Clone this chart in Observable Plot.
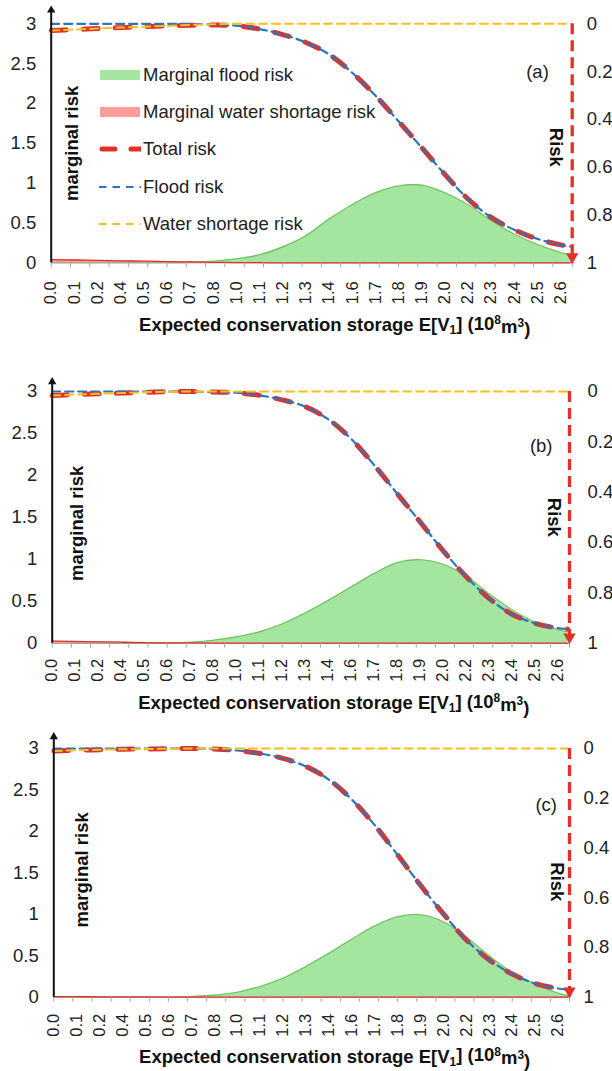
<!DOCTYPE html>
<html><head><meta charset="utf-8">
<script src="https://cdn.jsdelivr.net/npm/d3@7"></script>
<script src="https://cdn.jsdelivr.net/npm/@observablehq/plot@0.6"></script>
<style>
body{margin:0;background:#fff;}
#chart{position:relative;width:612px;height:1071px;font-family:"Liberation Sans",Arial,sans-serif;overflow:hidden;}
#chart svg{display:block;}
.legend{position:absolute;left:99px;top:56px;font-size:18.5px;color:#222;}
.legend .row{display:flex;align-items:center;height:37.4px;white-space:nowrap;}
.legend svg{margin-right:2px;}
</style></head><body><div id="chart"></div><script>
// ---- data ----
const storage = [0, 0.12, 0.24, 0.36, 0.48, 0.6, 0.72, 0.84, 0.96, 1.08, 1.2, 1.32, 1.44, 1.56, 1.68, 1.8, 1.92, 2.04, 2.16, 2.28, 2.4, 2.52, 2.64, 2.69];
const storageLabels = ["0.0","0.1","0.2","0.4","0.5","0.6","0.7","0.8","1.0","1.1","1.2","1.3","1.4","1.6","1.7","1.8","1.9","2.0","2.2","2.3","2.4","2.5","2.6"];
const marginalTicks = [0, 0.5, 1, 1.5, 2, 2.5, 3];
const riskTicks = [0, 0.2, 0.4, 0.6, 0.8, 1];
const xDomain = [0, 2.7];

// panel (a)
const aMarginalFlood    = [0,0,0,0,0,0,0.005,0.02,0.05,0.1,0.2,0.34,0.55,0.73,0.88,0.965,0.975,0.88,0.73,0.53,0.36,0.23,0.13,0.1];
const aMarginalShortage = [0.04,0.035,0.03,0.025,0.02,0.015,0.01,0.006,0.003,0.001,0,0,0,0,0,0,0,0,0,0,0,0,0,0];
const aTotalRisk        = [0.028,0.024,0.02,0.016,0.012,0.009,0.006,0.005,0.008,0.022,0.045,0.078,0.128,0.205,0.3,0.408,0.518,0.63,0.733,0.81,0.862,0.9,0.925,0.932];
const aFloodRisk        = [0,0,0,0,0,0,0.001,0.003,0.008,0.022,0.045,0.078,0.128,0.205,0.3,0.408,0.518,0.63,0.733,0.81,0.862,0.9,0.925,0.932];
const aShortageRisk     = [0.028,0.024,0.02,0.016,0.012,0.009,0.005,0.002,0,0,0,0,0,0,0,0,0,0,0,0,0,0,0,0];
// panel (b)
const bMarginalFlood    = [0,0,0,0,0,0,0.01,0.035,0.075,0.135,0.23,0.36,0.51,0.67,0.83,0.96,0.995,0.94,0.8,0.59,0.4,0.25,0.16,0.135];
const bMarginalShortage = [0.025,0.02,0.016,0.012,0.008,0.005,0.003,0.001,0,0,0,0,0,0,0,0,0,0,0,0,0,0,0,0];
const bTotalRisk        = [0.016,0.012,0.009,0.006,0.003,0.001,0,0.002,0.005,0.015,0.033,0.06,0.11,0.188,0.292,0.405,0.518,0.632,0.735,0.822,0.885,0.921,0.94,0.944];
const bFloodRisk        = [0,0,0,0,0,0,0,0.002,0.005,0.015,0.033,0.06,0.11,0.188,0.292,0.405,0.518,0.632,0.735,0.822,0.885,0.921,0.94,0.944];
const bShortageRisk     = [0.016,0.012,0.009,0.006,0.003,0.001,0,0,0,0,0,0,0,0,0,0,0,0,0,0,0,0,0,0];
// panel (c)
const cMarginalFlood    = [0,0,0,0,0,0,0.008,0.025,0.06,0.13,0.23,0.37,0.53,0.7,0.86,0.97,0.995,0.91,0.725,0.5,0.3,0.16,0.05,0.02];
const cMarginalShortage = [0.008,0.006,0.005,0.004,0.003,0.002,0.001,0,0,0,0,0,0,0,0,0,0,0,0,0,0,0,0,0];
const cTotalRisk        = [0.01,0.007,0.005,0.003,0.002,0.001,0,0.002,0.008,0.02,0.04,0.072,0.125,0.205,0.308,0.428,0.55,0.665,0.77,0.85,0.907,0.945,0.965,0.97];
const cFloodRisk        = [0,0,0,0,0,0,0,0.002,0.008,0.02,0.04,0.072,0.125,0.205,0.308,0.428,0.55,0.665,0.77,0.85,0.907,0.945,0.965,0.97];
const cShortageRisk     = [0.01,0.007,0.005,0.003,0.002,0.001,0,0,0,0,0,0,0,0,0,0,0,0,0,0,0,0,0,0];

const legendItems = ["Marginal flood risk","Marginal water shortage risk","Total risk","Flood risk","Water shortage risk"];
const xTitle = "Expected conservation storage E[V1] (108m3)";

// ---- styles ----
const GREEN_FILL = "#a4e6a0", GREEN_LINE = "#6fbf5e", PINK = "#f99d9d", RED = "#e3312a",
      BLUE = "#2e75b6", ORANGE = "#fdbd1c", FONT = "Liberation Sans, Arial, sans-serif";

const panels = [
  {mf:aMarginalFlood, ms:aMarginalShortage, tot:aTotalRisk, fr:aFloodRisk, sr:aShortageRisk, tag:"(a)",
   height:345, mt:23.3, mb:82.7, ml:50.7, mr:40.3, tickDy:30, titleDy:62.5, arrowDy:-13.6,
   ylab:[21,0], rlab:[-16.5,4], tagOff:[-34.7,48.4], rTickDx:14.5},
  {mf:bMarginalFlood, ms:bMarginalShortage, tot:bTotalRisk, fr:bFloodRisk, sr:bShortageRisk, tag:"(b)",
   height:373, mt:46, mb:75.3, ml:51.7, mr:43, tickDy:27, titleDy:60.3, arrowDy:-9.6,
   ylab:[25,6], rlab:[-16,0], tagOff:[-28.3,55], rTickDx:18},
  {mf:cMarginalFlood, ms:cMarginalShortage, tot:cTotalRisk, fr:cFloodRisk, sr:cShortageRisk, tag:"(c)",
   height:353, mt:30, mb:74.3, ml:53.3, mr:43, tickDy:28, titleDy:59.5, arrowDy:-11.6,
   ylab:[28.4,-3], rlab:[-12.3,9], tagOff:[-23.3,57], rTickDx:14}
];

const toLeft = r => 3 * (1 - r); // risk (right axis, inverted) -> marginal-risk scale

function makePanel(p) {
  const rows = storage.map((x, i) => ({x, mf: p.mf[i], ms: p.ms[i], tot: toLeft(p.tot[i]), fr: toLeft(p.fr[i]), sr: toLeft(p.sr[i])}));
  const labelRows = storageLabels.map((label, i) => ({x: storage[i], label}));
  const svg = Plot.plot({
    width: 612, height: p.height,
    marginTop: p.mt, marginBottom: p.mb, marginLeft: p.ml, marginRight: p.mr,
    style: {fontFamily: FONT, color: "#222", background: "#fff", overflow: "visible"},
    x: {domain: xDomain, axis: null},
    y: {domain: [0, 3], axis: null},
    marks: [
      Plot.areaY(rows, {x: "x", y: "mf", fill: GREEN_FILL, curve: "catmull-rom"}),
      Plot.lineY(rows, {x: "x", y: "mf", stroke: GREEN_LINE, strokeWidth: 1.1, curve: "catmull-rom"}),
      Plot.ruleY([0], {stroke: "#9a9a9a", strokeWidth: 1}),
      Plot.areaY(rows, {x: "x", y: "ms", fill: PINK, curve: "monotone-x"}),
      Plot.lineY(rows, {x: "x", y: "ms", stroke: RED, strokeWidth: 1.3, curve: "monotone-x"}),
      Plot.axisX(d3.range(0, 2.75, 0.1), {tickSize: 5, tickFormat: () => "", label: null, stroke: "#a6a6a6", strokeWidth: 1}),
      Plot.text(labelRows, {x: "x", text: "label", frameAnchor: "bottom", rotate: -90, textAnchor: "middle", lineAnchor: "middle", dy: p.tickDy, fontSize: 16.5, fill: "#222"}),
      Plot.axisY(marginalTicks, {tickSize: 0, tickPadding: 15, fontSize: 18.5, tickFormat: d => String(d), label: null, fill: "#222"}),
      Plot.text(riskTicks, {y: d => toLeft(d), text: d => String(d), frameAnchor: "right", dx: p.rTickDx, textAnchor: "start", lineAnchor: "middle", fontSize: 18.5, fill: "#222"}),
      Plot.lineY(rows, {x: "x", y: "tot", stroke: RED, strokeWidth: 5, strokeDasharray: "15,17", strokeLinecap: "round", curve: "catmull-rom"}),
      Plot.lineY(rows, {x: "x", y: "fr", stroke: BLUE, strokeWidth: 2.2, strokeDasharray: "8,5", curve: "catmull-rom"}),
      Plot.lineY(rows, {x: "x", y: "sr", stroke: ORANGE, strokeWidth: 2, strokeDasharray: "8,5", curve: "monotone-x"}),
      Plot.ruleX([xDomain[1]], {stroke: RED, strokeWidth: 3.3, strokeDasharray: "11,6"}),
      Plot.dot([xDomain[1]], {x: d => d, frameAnchor: "bottom", dy: -6, symbol: "triangle", rotate: 180, r: 4.6, fill: RED, stroke: "none"}),
      Plot.ruleX([xDomain[0]], {stroke: "#111", strokeWidth: 2, insetTop: p.arrowDy - 2}),
      Plot.dot([xDomain[0]], {x: d => d, frameAnchor: "top", dy: p.arrowDy, symbol: "triangle", r: 3.1, fill: "#111", stroke: "none"}),
      Plot.text(["marginal risk"], {frameAnchor: "left", textAnchor: "middle", lineAnchor: "middle", dx: p.ylab[0], dy: p.ylab[1], rotate: -90, fontWeight: "bold", fontSize: 18.5, fill: "#111"}),
      Plot.text(["Risk"], {frameAnchor: "right", textAnchor: "middle", lineAnchor: "middle", dx: p.rlab[0], dy: p.rlab[1], rotate: 90, fontWeight: "bold", fontSize: 18.5, fill: "#111"}),
      Plot.text([p.tag], {frameAnchor: "top-right", textAnchor: "middle", lineAnchor: "middle", dx: p.tagOff[0], dy: p.tagOff[1], fontSize: 18.5, fill: "#222"}),
      Plot.text([xTitle], {frameAnchor: "bottom", textAnchor: "middle", lineAnchor: "middle", dx: 23, dy: p.titleDy, fontWeight: "bold", fontSize: 18.5, fill: "#111"})
    ]
  });
  // rich text for the axis title (subscript / superscripts)
  d3.select(svg).selectAll("text").filter(function() { return this.textContent === xTitle; }).each(function() {
    const t = d3.select(this); t.text("");
    const parts = [["Expected conservation storage E[V", 0], ["1", 1], ["] (10", -1], ["8", 2], ["m", -2], ["3", 2], [")", -2]];
    for (const [s, k] of parts) {
      const ts = t.append("tspan").text(s);
      if (k === 1) ts.attr("dy", "0.25em").attr("font-size", "12px");
      if (k === -1) ts.attr("dy", "-0.25em");
      if (k === 2) ts.attr("dy", "-0.45em").attr("font-size", "12px");
      if (k === -2) ts.attr("dy", "0.45em");
    }
  });
  return svg;
}

const chart = document.getElementById("chart");
panels.forEach(p => chart.appendChild(makePanel(p)));

// legend (inside panel a)
const legend = document.createElement("div");
legend.className = "legend";
const swatches = [
  '<rect x="1" y="1" width="40" height="10" fill="' + GREEN_FILL + '"/>',
  '<rect x="1" y="1" width="40" height="10" fill="' + PINK + '"/>',
  '<line x1="3" y1="6" x2="44" y2="6" stroke="' + RED + '" stroke-width="5" stroke-linecap="round" stroke-dasharray="13,16"/>',
  '<line x1="0" y1="6" x2="42" y2="6" stroke="' + BLUE + '" stroke-width="2.2" stroke-dasharray="7.5,6"/>',
  '<line x1="0" y1="6" x2="42" y2="6" stroke="' + ORANGE + '" stroke-width="2" stroke-dasharray="7.5,6"/>'
];
legendItems.forEach((name, i) => {
  const row = document.createElement("div");
  row.className = "row";
  row.innerHTML = '<svg width="42" height="12" style="overflow:hidden">' + swatches[i] + '</svg><span>' + name + '</span>';
  legend.appendChild(row);
});
chart.appendChild(legend);
</script></body></html>
